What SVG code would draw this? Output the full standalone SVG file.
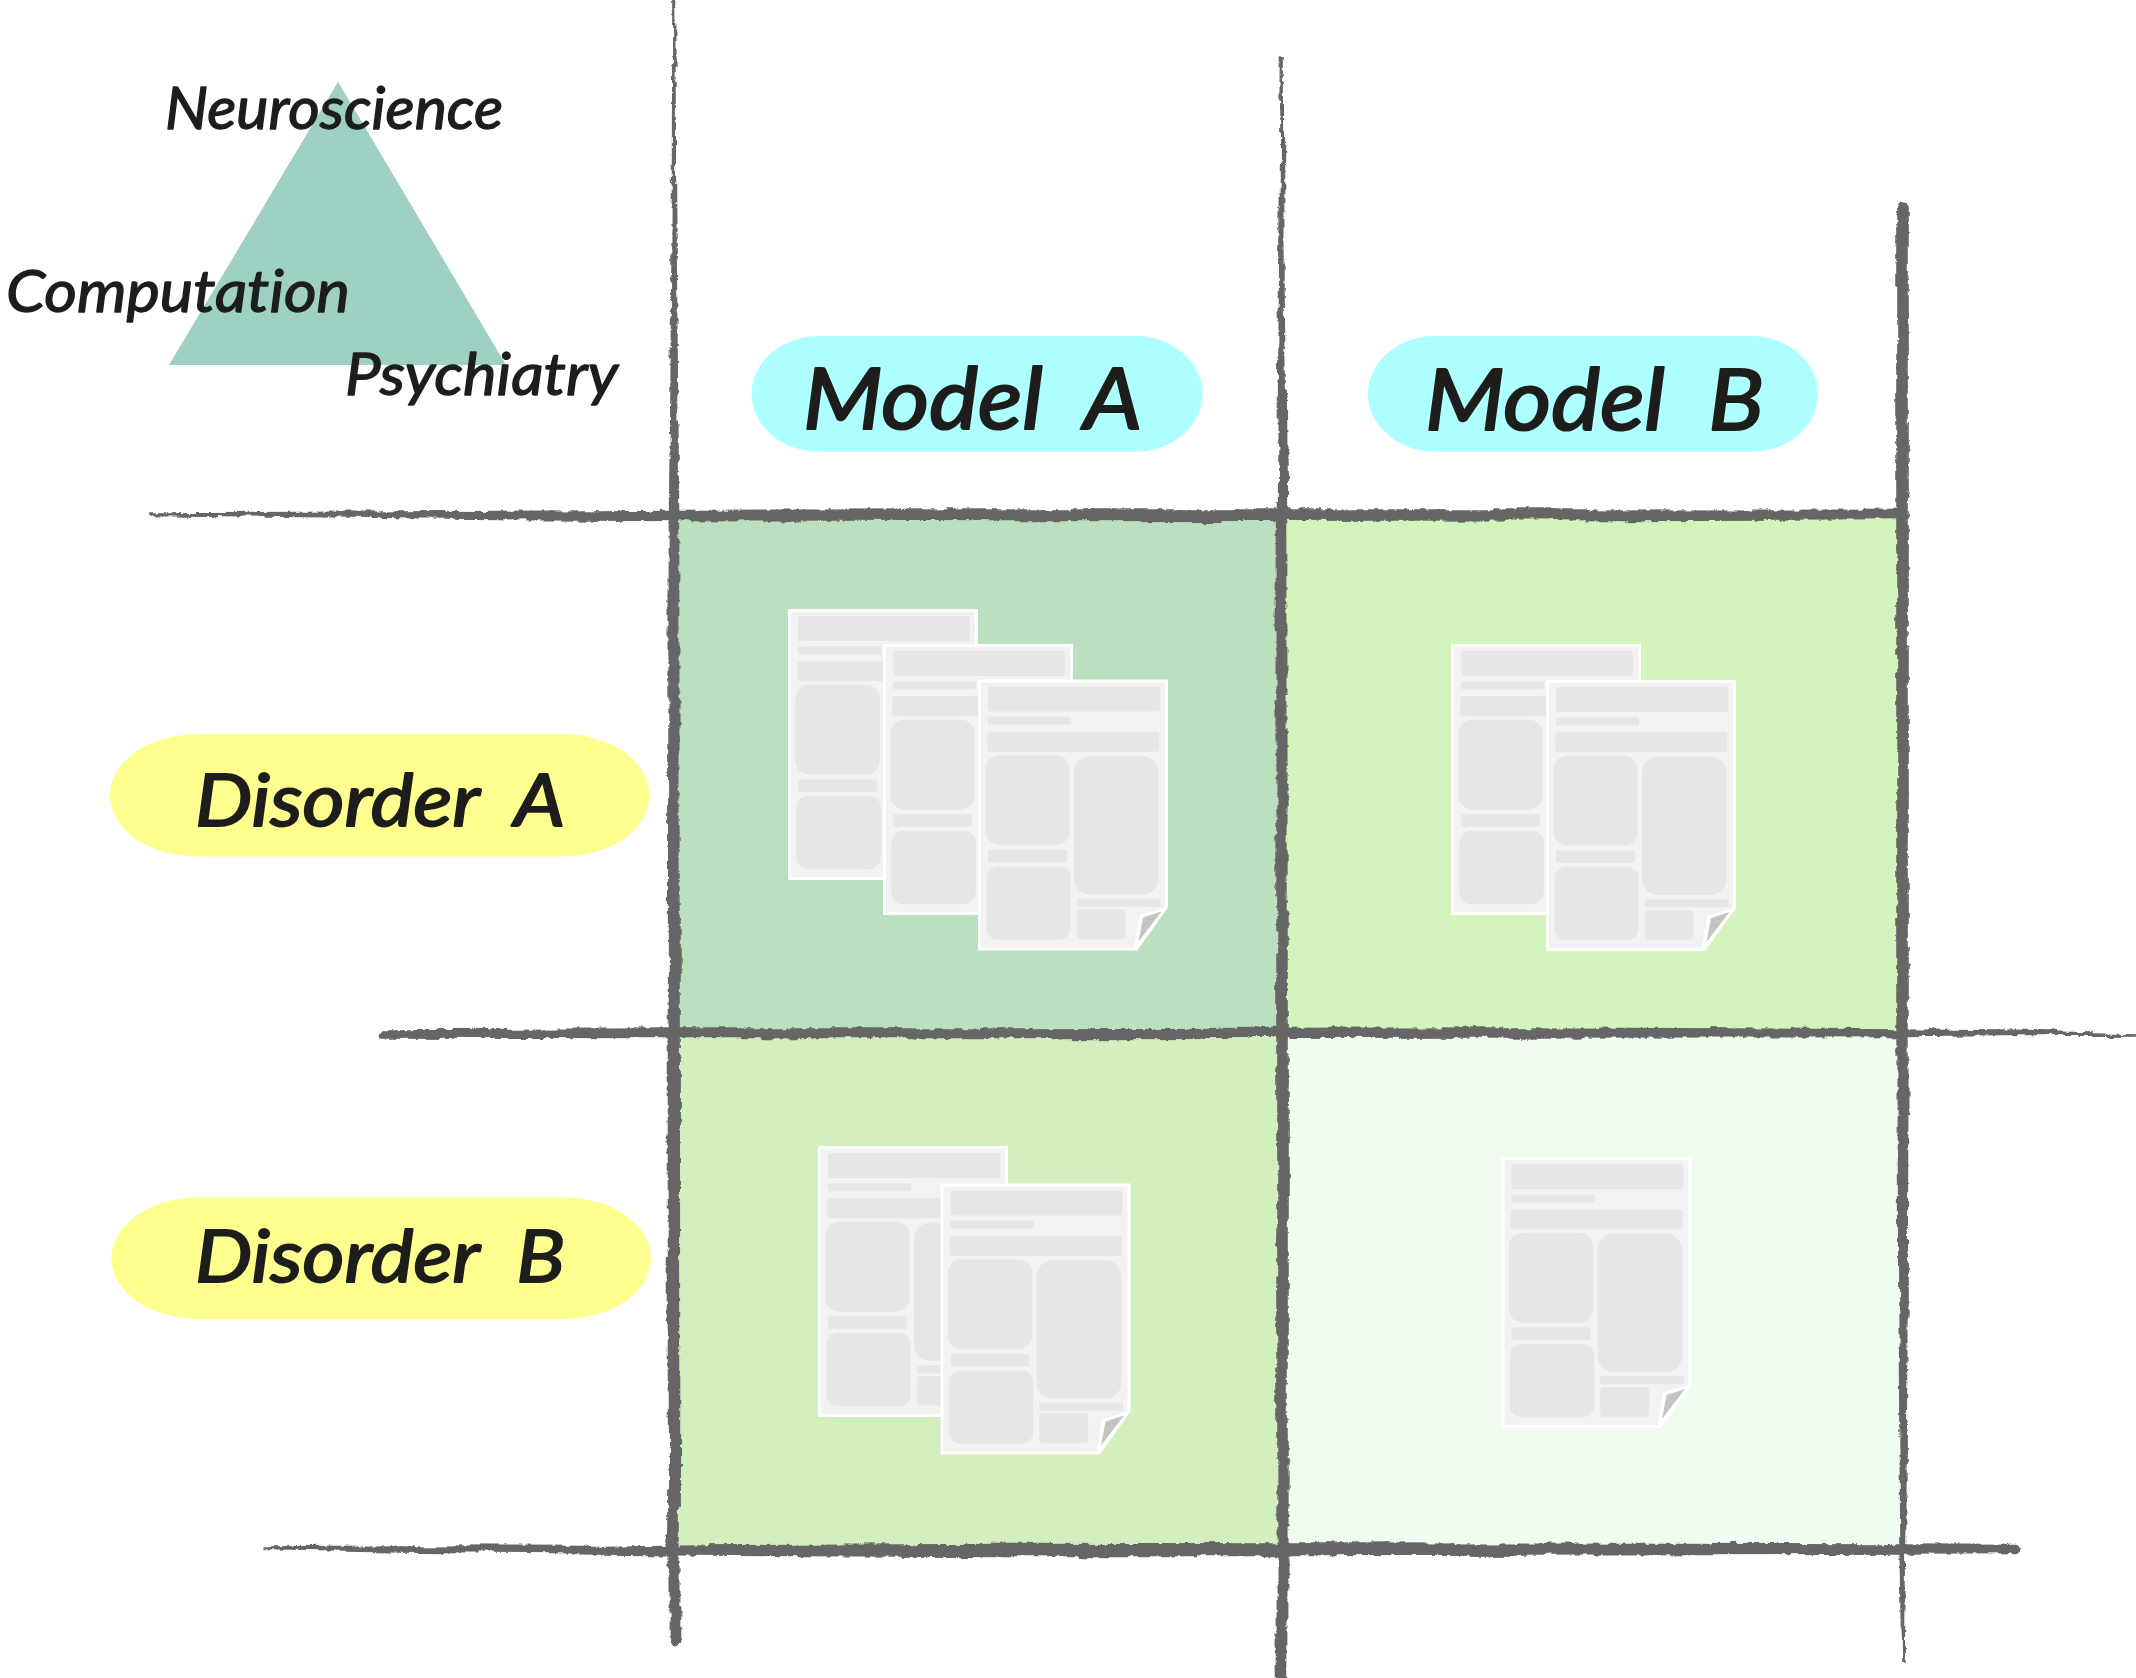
<svg xmlns="http://www.w3.org/2000/svg" width="2136" height="1678" viewBox="0 0 2136 1678">
<style>
.hand{font-family:"Lato","Open Sans",sans-serif;font-style:italic;fill:#1d1d1b;stroke:#1d1d1b;stroke-linejoin:round;font-variant-ligatures:none}
.big{font-size:86px;stroke-width:2.2px}
.mid{font-size:72px;stroke-width:1.9px}
.small{font-size:59px;stroke-width:1.3px}
.sheet{fill:#f2f2f2;stroke:#fff;stroke-width:3}
.box{fill:#e6e6e6}
.ln{fill:#666;stroke:#666;stroke-width:1.6}
</style>
<defs>
<filter id="rough" filterUnits="userSpaceOnUse" x="0" y="0" width="2136" height="1678" color-interpolation-filters="sRGB">
<feTurbulence type="fractalNoise" baseFrequency="0.012" numOctaves="2" seed="4" result="low"/>
<feDisplacementMap in="SourceGraphic" in2="low" scale="7" xChannelSelector="R" yChannelSelector="G" result="d1"/>
<feTurbulence type="fractalNoise" baseFrequency="0.11" numOctaves="3" seed="9" result="high"/>
<feDisplacementMap in="d1" in2="high" scale="4.5" xChannelSelector="G" yChannelSelector="R"/>
</filter>
<g id="paper">
<path class="sheet" d="M1.5 1.5H188.5V227.5L158.5 269.5H1.5Z"/>
<rect class="box" x="10" y="7" width="172" height="25" rx="3"/>
<rect class="box" x="10" y="37.3" width="83" height="8" rx="1.5"/>
<rect class="box" x="9.3" y="52.3" width="172" height="20" rx="3"/>
<rect class="box" x="7.3" y="75.7" width="84.4" height="90" rx="14"/>
<rect class="box" x="10" y="170.3" width="79" height="12.7" rx="2"/>
<rect class="box" x="8.3" y="186.7" width="84.4" height="73.6" rx="12"/>
<rect class="box" x="96" y="76.7" width="84.7" height="138.3" rx="16"/>
<rect class="box" x="98.7" y="219.3" width="84" height="8" rx="1.5"/>
<rect class="box" x="98.7" y="230" width="49" height="29.7" rx="4"/>
<path fill="#fff" d="M189 227.5L161.5 235.5L155.5 270H159Z"/>
<path fill="#c4c4c4" d="M183.5 232L165 238L160.5 262Z"/>
</g>
</defs>
<rect width="2136" height="1678" fill="#fff"/>
<g id="cells">
<rect id="cell-a-a" x="676" y="516" width="606" height="517" fill="#bbe0c0"/>
<rect id="cell-a-b" x="1282" y="516" width="621" height="517" fill="#d3f4bd"/>
<rect id="cell-b-a" x="676" y="1033" width="606" height="516" fill="#d4efbe"/>
<rect id="cell-b-b" x="1282" y="1033" width="621" height="516" fill="#f1fcf1"/>
</g>
<g id="triangle-node">
<path fill="#9fd0c4" d="M338 81.7L506 365H169Z"/>
<text class="hand small" x="165" y="129" textLength="338" lengthAdjust="spacingAndGlyphs">Neuroscience</text>
<text class="hand small" x="6" y="312" textLength="344" lengthAdjust="spacingAndGlyphs">Computation</text>
<text class="hand small" x="345" y="395" textLength="273" lengthAdjust="spacingAndGlyphs">Psychiatry</text>
</g>
<g id="connectors" filter="url(#rough)">
<path class="ln" d="M673 0H674.5L675.5 200L677.5 400L678.5 515L679 1000L679.5 1400L678.5 1640Q674 1656 669.5 1640L668.5 1400L668.5 1000L669.5 515L671 400L672.5 200Z"/>
<path class="ln" d="M1281.5 60H1283L1284 300L1286.5 515L1287 1000L1287 1400L1286.5 1678H1277.5L1277 1400L1277 1000L1277.5 515L1279.5 300Z"/>
<path class="ln" d="M1898 206Q1903 198 1908 206L1908 515L1908 1000L1907 1300L1905.5 1540L1904 1662H1903L1901 1540L1899 1300L1898 1000L1898 515Z"/>
<path class="ln" d="M150 513L300 512.5L500 511.5L680 510.5L1000 510L1400 510L1905 510.5V518.5L1400 520L1000 520.5L680 519.5L500 518.5L300 516.5L150 514.5Z"/>
<path class="ln" d="M381 1030L673 1029L1000 1029L1500 1028L1903 1030L2000 1031L2136 1034V1035L2000 1035.5L1903 1036.5L1500 1037L1000 1037.5L673 1037.5L381 1037Q378 1033.5 381 1030Z"/>
<path class="ln" d="M265 1547L400 1546L600 1546.5L700 1545L1000 1543.5L1300 1544L1903 1545L2016 1545.5Q2024 1549 2016 1553.5L1903 1554L1300 1555.5L1000 1555.5L700 1554L600 1553L400 1551L265 1548.5Z"/>
</g>
<g id="model-a"><rect x="751.6" y="336" width="451" height="115.7" rx="67" ry="57.8" fill="#aeffff"/><text class="hand big" x="803" y="429" textLength="339" lengthAdjust="spacingAndGlyphs" xml:space="preserve">Model  A</text></g>
<g id="model-b"><rect x="1368" y="336" width="450" height="115.7" rx="67" ry="57.8" fill="#aeffff"/><text class="hand big" x="1425" y="430" textLength="339" lengthAdjust="spacingAndGlyphs" xml:space="preserve">Model  B</text></g>
<g id="disorder-a"><rect x="110" y="734" width="539.5" height="122.5" rx="87" ry="61" fill="#ffff90"/><text class="hand mid" x="195" y="826" textLength="370" lengthAdjust="spacingAndGlyphs" xml:space="preserve">Disorder  A</text></g>
<g id="disorder-b"><rect x="111.4" y="1197.4" width="539.5" height="121.6" rx="87" ry="61" fill="#ffff90"/><text class="hand mid" x="195" y="1281.5" textLength="370" lengthAdjust="spacingAndGlyphs" xml:space="preserve">Disorder  B</text></g>
<g id="papers-a-a"><use href="#paper" x="788" y="609"/><use href="#paper" x="883" y="644"/><use href="#paper" x="978" y="679.5"/></g>
<g id="papers-a-b"><use href="#paper" x="1451" y="644"/><use href="#paper" x="1546" y="680"/></g>
<g id="papers-b-a"><use href="#paper" x="818" y="1146"/><use href="#paper" x="940.5" y="1183.5"/></g>
<g id="papers-b-b"><use href="#paper" x="1501.5" y="1157"/></g>
</svg>
